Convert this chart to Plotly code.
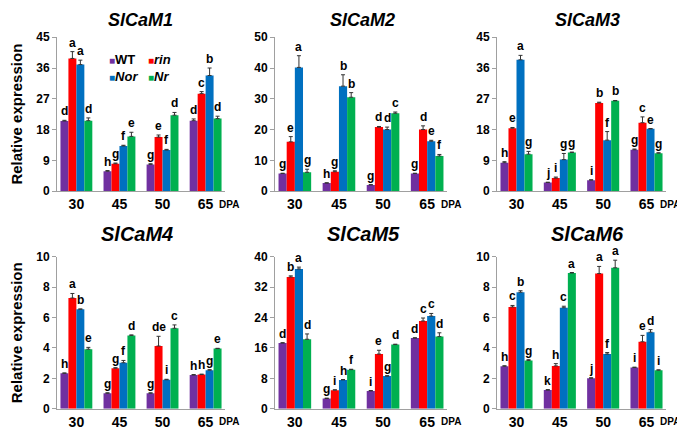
import plotly.graph_objects as go
from plotly.subplots import make_subplots

# the page body adds an 8px margin, so the figure is drawn 8px in from the window corner
PAD = 8
W, H = 685 - PAD, 438 - PAD

dpa = ['30', '45', '50', '65']
genotypes = ['WT', 'rin', 'Nor', 'Nr']
colors = ['#7030A0', '#FF0000', '#0070C0', '#00B050']
genes = ['SlCaM1', 'SlCaM2', 'SlCaM3', 'SlCaM4', 'SlCaM5', 'SlCaM6']

# mean expression, one list per genotype (WT, rin, Nor, Nr) across 30/45/50/65 DPA
cam1_mean = [[20.5, 5.8, 7.8, 20.6], [38.8, 8.0, 15.8, 28.5], [37.0, 13.2, 12.0, 33.8], [20.6, 16.0, 22.2, 21.2]]
cam1_err = [[0.2, 0.2, 0.2, 0.5], [2.0, 0.2, 0.6, 0.6], [1.3, 0.2, 0.2, 2.2], [0.8, 1.2, 0.8, 0.7]]
cam1_sig = [['d', 'h', 'g', 'd'], ['a', 'g', 'e', 'c'], ['a', 'f', 'f', 'b'], ['d', 'e', 'd', 'd']]

cam2_mean = [[5.7, 2.6, 2.0, 5.7], [16.0, 6.3, 20.8, 20.0], [40.2, 34.1, 20.0, 16.2], [6.1, 30.5, 25.3, 11.4]]
cam2_err = [[0.1, 0.1, 0.1, 0.1], [1.7, 0.3, 0.2, 1.2], [3.8, 3.7, 0.8, 0.3], [1.0, 1.5, 0.4, 0.5]]
cam2_sig = [['g', 'h', 'g', 'g'], ['e', 'g', 'd', 'd'], ['a', 'b', 'd', 'e'], ['g', 'b', 'c', 'f']]

cam3_mean = [[8.3, 2.5, 3.2, 12.1], [18.4, 3.8, 25.8, 20.0], [38.4, 9.2, 14.9, 18.2], [10.8, 11.3, 26.4, 11.1]]
cam3_err = [[0.3, 0.1, 0.1, 0.2], [0.2, 0.3, 0.2, 1.7], [1.3, 1.8, 2.5, 0.1], [0.8, 0.1, 0.1, 0.1]]
cam3_sig = [['h', 'j', 'i', 'g'], ['e', 'i', 'b', 'c'], ['a', 'g', 'f', 'e'], ['g', 'g', 'b', 'g']]

cam4_mean = [[2.33, 1.02, 1.02, 2.22], [7.29, 2.67, 4.13, 2.25], [6.55, 3.03, 1.91, 2.54], [3.92, 4.83, 5.30, 3.96]]
cam4_err = [[0.03, 0.03, 0.03, 0.03], [0.30, 0.03, 0.64, 0.03], [0.02, 0.15, 0.03, 0.03], [0.12, 0.03, 0.22, 0.02]]
cam4_sig = [['h', 'g', 'g', 'h'], ['a', 'g', 'de', 'h'], ['b', 'f', 'i', 'g'], ['e', 'd', 'c', 'e']]

cam5_mean = [[17.3, 2.7, 4.7, 18.6], [34.7, 4.9, 14.4, 23.1], [36.8, 7.6, 8.6, 24.4], [18.3, 10.3, 16.9, 19.0]]
cam5_err = [[0.1, 0.1, 0.1, 0.1], [0.3, 0.1, 1.0, 0.8], [0.5, 0.1, 0.1, 0.7], [1.4, 0.1, 0.1, 1.0]]
cam5_sig = [['d', 'g', 'i', 'd'], ['b', 'i', 'e', 'c'], ['a', 'h', 'g', 'c'], ['d', 'f', 'd', 'd']]

cam6_mean = [[2.80, 1.23, 2.01, 2.71], [6.70, 2.82, 8.90, 4.41], [7.67, 6.65, 3.60, 5.04], [3.18, 8.94, 9.28, 2.54]]
cam6_err = [[0.03, 0.03, 0.03, 0.03], [0.10, 0.15, 0.47, 0.42], [0.10, 0.10, 0.10, 0.17], [0.05, 0.03, 0.50, 0.02]]
cam6_sig = [['h', 'k', 'j', 'i'], ['c', 'h', 'a', 'e'], ['b', 'c', 'f', 'd'], ['g', 'a', 'a', 'i']]

y_max = [45, 50, 45, 10, 40, 10]
y_step = [9, 10, 9, 2, 8, 2]

means = [cam1_mean, cam2_mean, cam3_mean, cam4_mean, cam5_mean, cam6_mean]
errs = [cam1_err, cam2_err, cam3_err, cam4_err, cam5_err, cam6_err]
sigs = [cam1_sig, cam2_sig, cam3_sig, cam4_sig, cam5_sig, cam6_sig]

FONT = 'Arial, Liberation Sans, sans-serif'


def px_x(v):
    return (v - PAD) / W


def px_y(v):
    return 1 - (v - PAD) / H


# panel placement in window pixels
col_px = [(57, 225), (275, 447), (497, 666)]
row_px = [(31, 190), (258, 415)]
title_x = [[140, 362, 587], [137, 363, 587]]
title_y = [13, 234]
title_size = [18, 20]

fig = make_subplots(rows=2, cols=3)

bargap = 0.26
bw = (1 - bargap) / 4
offsets = [(-1.5 + j) * bw for j in range(4)]

for k in range(6):
    r, c = k // 3, k % 3
    ax = '' if k == 0 else str(k + 1)
    for j, g in enumerate(genotypes):
        fig.add_trace(go.Bar(
            x=dpa, y=means[k][j], name=g,
            marker=dict(color=colors[j], line=dict(width=0)),
            error_y=dict(type='data', array=errs[k][j], arrayminus=[0] * 4,
                         symmetric=False, color='#333333', thickness=1, width=2),
            showlegend=False,
        ), row=r + 1, col=c + 1)
        for i in range(4):
            fig.add_annotation(
                x=i + offsets[j], y=means[k][j][i] + errs[k][j][i],
                xref=f'x{ax}', yref=f'y{ax}',
                text=sigs[k][j][i], showarrow=False, yanchor='bottom', yshift=0,
                font=dict(family=FONT, size=12, color='black', weight='bold'))

    x0, x1 = col_px[c]
    ytop, ybot = row_px[r]
    fig.layout[f'xaxis{ax}'].update(
        domain=[px_x(x0), px_x(x1)], type='category', range=[-0.45, 3.45],
        showline=True, linecolor='#a0a0a0', linewidth=1, ticks='', showgrid=False,
        tickfont=dict(family=FONT, size=14, color='black', weight='bold'))
    fig.layout[f'yaxis{ax}'].update(
        domain=[px_y(ybot), px_y(ytop)], range=[0, y_max[k]],
        tick0=0, dtick=y_step[k], showgrid=False, zeroline=False,
        showline=True, linecolor='#a0a0a0', linewidth=1,
        ticks='outside', ticklen=4, tickcolor='#a0a0a0',
        tickfont=dict(family=FONT, size=12, color='black', weight='bold'))
    if c == 0:
        fig.layout[f'yaxis{ax}'].update(
            title=dict(text='Relative expression', standoff=10,
                       font=dict(family=FONT, size=15, color='black', weight='bold')))

    # gene title
    fig.add_annotation(
        x=px_x(title_x[r][c]), y=px_y(title_y[r]), xref='paper', yref='paper',
        text=f'<b><i>{genes[k]}</i></b>', showarrow=False,
        xanchor='center', yanchor='middle',
        font=dict(family=FONT, size=title_size[r], color='black'))
    # DPA label
    fig.add_annotation(
        x=3.27, y=-0.085, xref=f'x{ax}', yref=f'y{ax} domain',
        text='<b>DPA</b>', showarrow=False, xanchor='left', yanchor='middle',
        font=dict(family=FONT, size=10, color='black'))

# legend drawn inside the first panel (2 x 2)
leg_pos = [(107, 54), (146, 54), (107, 72), (146, 72)]
for j, g in enumerate(genotypes):
    label = g if g == 'WT' else f'<i>{g}</i>'
    fig.add_annotation(
        x=px_x(leg_pos[j][0]), y=px_y(leg_pos[j][1]), xref='paper', yref='paper',
        text=f'<span style="color:{colors[j]};font-size:10px">■</span><b>{label}</b>',
        showarrow=False, xanchor='left', yanchor='middle',
        font=dict(family=FONT, size=13, color='black'))

fig.update_layout(
    width=W, height=H, barmode='group', bargap=bargap, bargroupgap=0,
    margin=dict(l=0, r=0, t=0, b=0),
    plot_bgcolor='white', paper_bgcolor='white',
    showlegend=False,
)

fig.write_html("out.html")
